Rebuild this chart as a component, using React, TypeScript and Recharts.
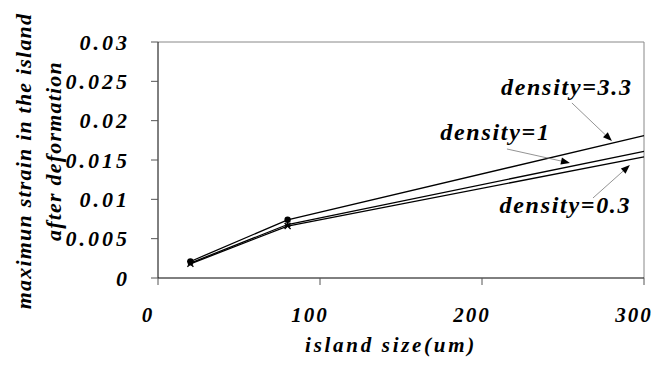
import React from "react";
import {
  LineChart,
  Line,
  XAxis,
  YAxis,
  ReferenceLine,
  ReferenceDot,
} from "recharts";

const islandSizes = [20, 80, 300];
const strainDensity33 = [0.0021, 0.0074, 0.0181];
const strainDensity1 = [0.0019, 0.0068, 0.0161];
const strainDensity03 = [0.0018, 0.0066, 0.0154];

const xTicks = [0, 100, 200, 300];
const yTicks = [0, 0.005, 0.01, 0.015, 0.02, 0.025, 0.03];

// annotation text anchors and arrows, in data units
const notes = [
  { text: "density=3.3", x: 252.4, y: 0.02434, from: [255.5, 0.02225], to: [280.2, 0.01741] },
  { text: "density=1", x: 208.3, y: 0.01862, from: [215.4, 0.0164], to: [254.3, 0.01462] },
  { text: "density=0.3", x: 251.5, y: 0.00934, from: [268.5, 0.01017], to: [291.3, 0.01436] },
];

const data = islandSizes.map((size, i) => ({
  size,
  d33: strainDensity33[i],
  d1: strainDensity1[i],
  d03: strainDensity03[i],
}));

const css = `
.chart-box svg text, .chart-box svg tspan {
  font-family: "Liberation Serif", "Times New Roman", serif !important;
  font-weight: 700 !important;
  font-style: italic !important;
}
`;

const CircleDot = (props: any) => {
  const { cx, cy } = props;
  if (cx == null || cy == null || props.payload.size > 100) return <g />;
  return <circle cx={cx} cy={cy} r={3.2} fill="#000" />;
};

const TriDot = (props: any) => {
  const { cx, cy } = props;
  if (cx == null || cy == null || props.payload.size > 100) return <g />;
  return <polygon points={`${cx},${cy - 3} ${cx - 3},${cy + 2.5} ${cx + 3},${cy + 2.5}`} fill="#000" />;
};

const CrossDot = (props: any) => {
  const { cx, cy } = props;
  if (cx == null || cy == null || props.payload.size > 100) return <g />;
  return (
    <path
      d={`M${cx - 3},${cy - 3}L${cx + 3},${cy + 3}M${cx + 3},${cy - 3}L${cx - 3},${cy + 3}`}
      stroke="#000"
      strokeWidth={1.3}
    />
  );
};

const Arrow = (props: any) => {
  const { x1, y1, x2, y2 } = props;
  if ([x1, y1, x2, y2].some((v) => v == null)) return <g />;
  const ang = Math.atan2(y2 - y1, x2 - x1);
  const len = 9;
  const w = 3.5;
  const bx = x2 - len * Math.cos(ang);
  const by = y2 - len * Math.sin(ang);
  const px = -Math.sin(ang) * w;
  const py = Math.cos(ang) * w;
  return (
    <g>
      <line x1={x1} y1={y1} x2={bx} y2={by} stroke="#777" strokeWidth={0.8} />
      <polygon points={`${x2},${y2} ${bx + px},${by + py} ${bx - px},${by - py}`} fill="#000" />
    </g>
  );
};

const YTitle = () => (
  <g fill="#000" fontSize={22} letterSpacing={1.2}>
    <text transform="translate(31,161) rotate(-90)" textAnchor="middle">
      maximun strain in the island
    </text>
    <text transform="translate(61,151) rotate(-90)" textAnchor="middle">
      after deformation
    </text>
  </g>
);

export default function App() {
  return (
    <div className="chart-box" style={{ position: "absolute", left: 0, top: 0, background: "#fff" }}>
      <style>{css}</style>
      <LineChart
        width={665}
        height={365}
        data={data}
        margin={{ top: 42, right: 21, left: 0, bottom: 0 }}
      >
        <XAxis
          dataKey="size"
          type="number"
          domain={[0, 300]}
          ticks={xTicks}
          height={87}
          tickSize={7}
          tickMargin={22}
          stroke="#000"
          tickLine={{ stroke: "#555" }}
          tick={{ fontSize: 21, fill: "#000", dx: -10, letterSpacing: 2 }}
          label={{
            value: "island size(um)",
            position: "insideBottom",
            offset: 13,
            dx: -10,
            fill: "#000",
            fontSize: 21,
            letterSpacing: 2.7,
          }}
        />
        <YAxis
          type="number"
          domain={[0, 0.03]}
          ticks={yTicks}
          width={158}
          tickSize={7}
          tickMargin={21}
          stroke="#000"
          tickLine={{ stroke: "#555" }}
          tick={{ fontSize: 22, fill: "#000", letterSpacing: 3 }}
          label={{ content: <YTitle /> }}
        />
        <ReferenceLine y={0.03} stroke="#888" strokeWidth={1} />
        <ReferenceLine x={300} stroke="#888" strokeWidth={1} />
        <Line
          dataKey="d03"
          stroke="#000"
          strokeWidth={1.3}
          dot={<CrossDot />}
          isAnimationActive={false}
        />
        <Line
          dataKey="d1"
          stroke="#000"
          strokeWidth={1.3}
          dot={<TriDot />}
          isAnimationActive={false}
        />
        <Line
          dataKey="d33"
          stroke="#000"
          strokeWidth={1.3}
          dot={<CircleDot />}
          isAnimationActive={false}
        />
        {notes.map((n) => (
          <ReferenceLine
            key={n.text + "-arrow"}
            segment={[
              { x: n.from[0], y: n.from[1] },
              { x: n.to[0], y: n.to[1] },
            ]}
            shape={<Arrow />}
          />
        ))}
        {notes.map((n) => (
          <ReferenceDot
            key={n.text}
            x={n.x}
            y={n.y}
            r={0}
            fill="none"
            stroke="none"
            label={{ value: n.text, position: "center", fill: "#000", fontSize: 24, letterSpacing: 1.7 }}
          />
        ))}
      </LineChart>
    </div>
  );
}
